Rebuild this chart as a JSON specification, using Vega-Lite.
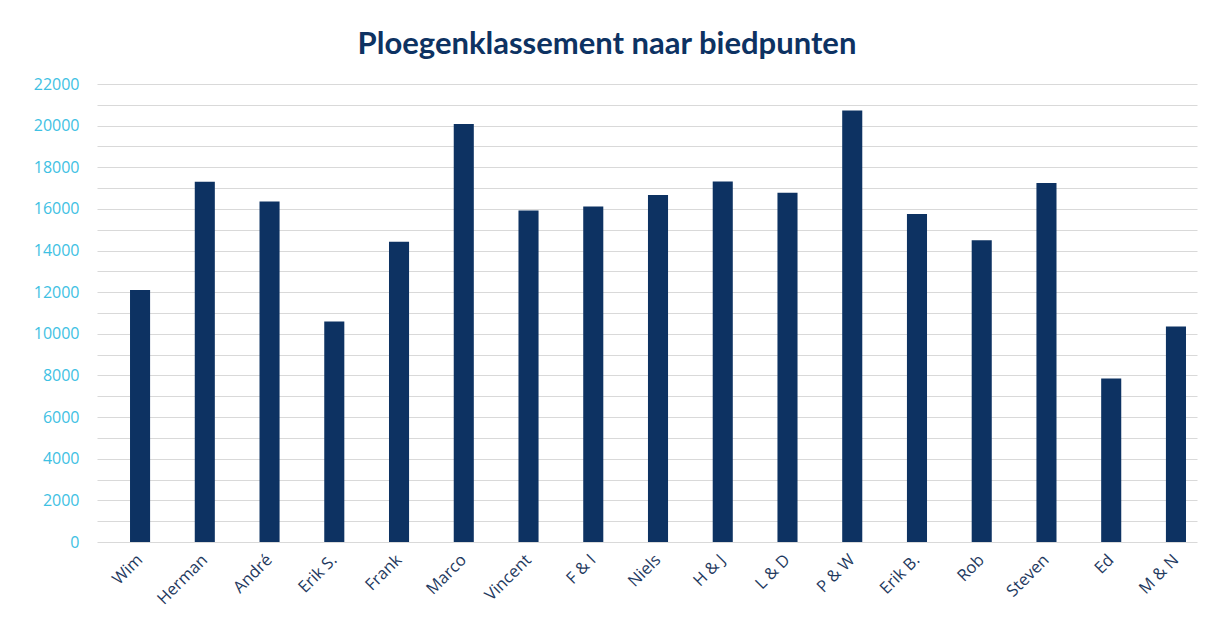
{
  "$schema": "https://vega.github.io/schema/vega-lite/v6.json",
  "width": 1100,
  "height": 458,
  "autosize": {"type": "none"},
  "padding": {"left": 97, "top": 84, "right": 22, "bottom": 80},
  "background": "white",
  "title": {
    "text": "Ploegenklassement naar biedpunten",
    "font": "Lato",
    "fontSize": 31,
    "fontWeight": "bold",
    "color": "#0d3262",
    "anchor": "middle",
    "dx": -40,
    "baseline": "alphabetic",
    "offset": -9
  },
  "data": {
    "values": [
      {"ploeg": "Wim", "biedpunten": 12100},
      {"ploeg": "Herman", "biedpunten": 17300},
      {"ploeg": "André", "biedpunten": 16350},
      {"ploeg": "Erik S.", "biedpunten": 10590},
      {"ploeg": "Frank", "biedpunten": 14420},
      {"ploeg": "Marco", "biedpunten": 20080},
      {"ploeg": "Vincent", "biedpunten": 15920},
      {"ploeg": "F & I", "biedpunten": 16110},
      {"ploeg": "Niels", "biedpunten": 16670},
      {"ploeg": "H & J", "biedpunten": 17320},
      {"ploeg": "L & D", "biedpunten": 16780},
      {"ploeg": "P & W", "biedpunten": 20730},
      {"ploeg": "Erik B.", "biedpunten": 15750},
      {"ploeg": "Rob", "biedpunten": 14500},
      {"ploeg": "Steven", "biedpunten": 17240},
      {"ploeg": "Ed", "biedpunten": 7850},
      {"ploeg": "M & N", "biedpunten": 10350}
    ]
  },
  "mark": {"type": "bar", "color": "#0d3262"},
  "encoding": {
    "x": {
      "field": "ploeg",
      "type": "nominal",
      "sort": null,
      "scale": {"paddingInner": 0.69, "paddingOuter": 0.34, "align": 0.75},
      "axis": {
        "title": null,
        "labelAngle": -45,
        "labelAlign": "right",
        "labelBaseline": "middle",
        "labelFont": "Open Sans",
        "labelFontSize": 16.5,
        "labelColor": "#1f3a60",
        "labelPadding": 15,
        "ticks": false,
        "domain": false,
        "grid": false
      }
    },
    "y": {
      "field": "biedpunten",
      "type": "quantitative",
      "scale": {"domain": [0, 22000], "nice": false},
      "axis": {
        "title": null,
        "values": [0, 1000, 2000, 3000, 4000, 5000, 6000, 7000, 8000, 9000, 10000, 11000, 12000, 13000, 14000, 15000, 16000, 17000, 18000, 19000, 20000, 21000, 22000],
        "labelExpr": "datum.value % 2000 == 0 ? format(datum.value, 'd') : ''",
        "labelFont": "Open Sans",
        "labelFontSize": 16,
        "labelColor": "#3ec1e3",
        "labelPadding": 18,
        "ticks": false,
        "domain": false,
        "grid": true,
        "gridColor": "#d9d9d9",
        "gridWidth": 1
      }
    }
  },
  "config": {"view": {"stroke": null}}
}
